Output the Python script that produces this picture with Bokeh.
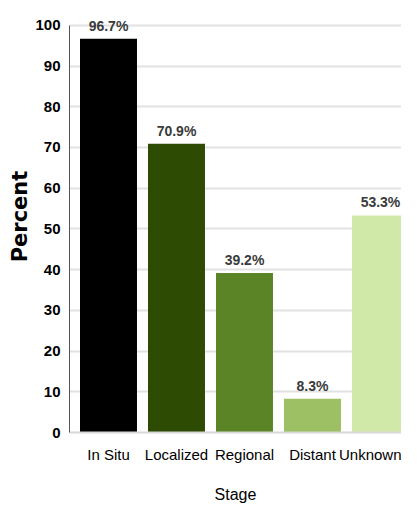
from bokeh.plotting import figure
from bokeh.models import ColumnDataSource, LabelSet, Range1d, FixedTicker
from bokeh.core.properties import value
from bokeh.embed import file_html
from bokeh.resources import INLINE

stages = ["In Situ", "Localized", "Regional", "Distant", "Unknown"]
percents = [96.7, 70.9, 39.2, 8.3, 53.3]
colors = ["#000000", "#2e4b04", "#5b8427", "#9dc064", "#d0e8a8"]
y_ticks = [0, 10, 20, 30, 40, 50, 60, 70, 80, 90, 100]

FONT = "Liberation Sans"

idx = list(range(len(stages)))
src = ColumnDataSource(dict(
    x=idx, top=percents, color=colors,
    label=[f"{v}%" for v in percents],
))

p = figure(width=401, height=505, output_backend="svg", toolbar_location=None,
           x_range=Range1d(-0.5735, 4.309), y_range=Range1d(0, 106.1),
           min_border_left=69, min_border_top=0, min_border_bottom=72,
           min_border_right=0)
p.outline_line_color = None

p.vbar(x="x", top="top", width=0.838, color="color", line_color=None, source=src)

labels = LabelSet(x="x", y="top", text="label", source=src, text_align="center",
                  text_baseline="bottom", y_offset=5, text_font=value(FONT),
                  text_font_size="14px", text_font_style="bold", text_color="#3a3a3a")
p.add_layout(labels)

p.xaxis.ticker = FixedTicker(ticks=idx)
p.xaxis.major_label_overrides = {i: s for i, s in enumerate(stages)}
p.yaxis.ticker = FixedTicker(ticks=y_ticks)
p.yaxis.bounds = (0, 100)

p.xgrid.grid_line_color = None
p.ygrid.grid_line_color = "#e2e2e2"
p.ygrid.grid_line_width = 2

for ax in (p.xaxis[0], p.yaxis[0]):
    ax.major_tick_line_color = None
    ax.minor_tick_line_color = None
    ax.major_label_text_color = "#000000"
    ax.major_label_text_font = FONT
    ax.axis_label_text_color = "#000000"

p.xaxis.axis_line_color = "#d8d8d8"
p.xaxis.axis_line_width = 2
p.xaxis.major_label_text_font_size = "15px"
p.xaxis.major_label_standoff = 7
p.xaxis.axis_label = "Stage"
p.xaxis.axis_label_text_font = FONT
p.xaxis.axis_label_text_font_size = "16px"
p.xaxis.axis_label_text_font_style = "normal"
p.xaxis.axis_label_standoff = 20

p.yaxis.axis_line_color = "#555555"
p.yaxis.major_label_text_font_size = "15px"
p.yaxis.major_label_text_font_style = "bold"
p.yaxis.major_label_standoff = 3
p.yaxis.axis_label = "Percent"
p.yaxis.axis_label_text_font = "DejaVu Sans"
p.yaxis.axis_label_text_font_size = "21px"
p.yaxis.axis_label_text_font_style = "bold"
p.yaxis.axis_label_standoff = 0

open("out.html", "w").write(file_html(p, INLINE))
